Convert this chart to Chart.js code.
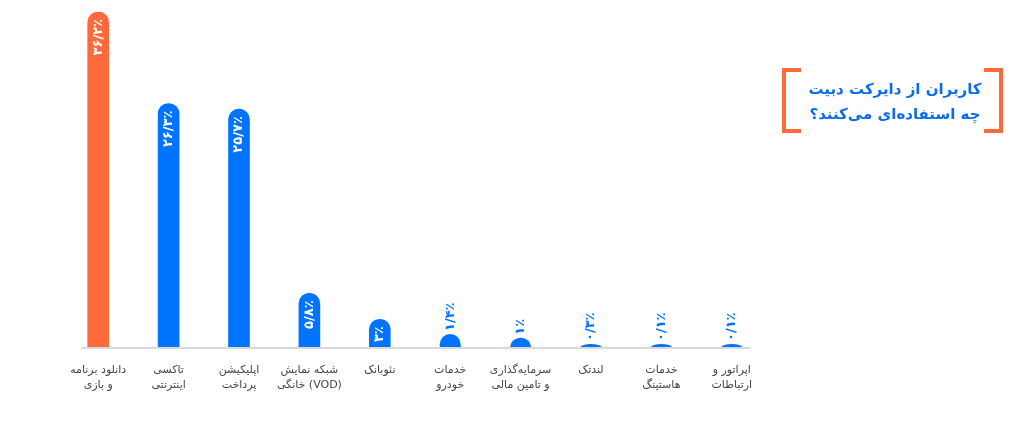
<!DOCTYPE html>
<html lang="fa">
<head>
<meta charset="utf-8">
<script src="https://cdn.jsdelivr.net/npm/chart.js@4/dist/chart.umd.min.js"></script>
<style>
  html, body { margin: 0; padding: 0; background: #fff; }
  #wrap { position: relative; width: 1024px; height: 431px; }
  #title {
    position: absolute; left: 790px; top: 77px; width: 210px;
    text-align: center; direction: rtl; white-space: nowrap;
    font-family: "DejaVu Sans", sans-serif; font-weight: bold;
    font-size: 15px; line-height: 25px; color: #0a6cf2;
  }
  .br { position: absolute; top: 68px; width: 15px; height: 57px; border: 4px solid #ff6a3d; }
  .br.l { left: 782px; border-right: none; }
  .br.r { left: 984px; border-left: none; }
</style>
</head>
<body>
<div id="wrap">
  <canvas id="c" width="1024" height="431"></canvas>
  <div class="br l"></div>
  <div class="br r"></div>
  <div id="title">کاربران از دایرکت دبیت<br>چه استفاده‌ای می‌کنند؟</div>
</div>
<script>
const categories = [
  ['دانلود برنامه', 'و بازی'],
  ['تاکسی', 'اینترنتی'],
  ['اپلیکیشن', 'پرداخت'],
  ['شبکه نمایش', 'خانگی (VOD)'],
  ['نئوبانک'],
  ['خدمات', 'خودرو'],
  ['سرمایه‌گذاری', 'و تامین مالی'],
  ['لندتک'],
  ['خدمات', 'هاستینگ'],
  ['اپراتور و', 'ارتباطات']
];
const values = [36.2, 26.3, 25.7, 5.8, 3, 1.4, 1, 0.3, 0.1, 0.1];
const valueLabels = ['۳۶/۲٪', '۲۶/۳٪', '۲۵/۷٪', '۵/۸٪', '۳٪', '۱/۴٪', '۱٪', '۰/۳٪', '۰/۱٪', '۰/۱٪'];

const ORANGE = '#ff6a3d';
const BLUE = '#0073ff';

// short bars get a dome top instead of the clamped corner radius
const domeBars = {
  id: 'domeBars',
  afterDatasetsDraw(chart) {
    const ctx = chart.ctx;
    chart.getDatasetMeta(0).data.forEach((bar, i) => {
      if (values[i] >= 3) return;
      const rx = bar.width / 2;
      const h = bar.base - bar.y;
      const ry = Math.min(rx, h);
      ctx.save();
      ctx.fillStyle = BLUE;
      ctx.beginPath();
      ctx.moveTo(bar.x - rx, bar.base);
      ctx.lineTo(bar.x - rx, bar.y + ry);
      ctx.ellipse(bar.x, bar.y + ry, rx, ry, 0, Math.PI, 2 * Math.PI);
      ctx.lineTo(bar.x + rx, bar.base);
      ctx.closePath();
      ctx.fill();
      ctx.restore();
    });
  }
};

// value text rotated inside the bar (big ones) or above it (small ones)
const barLabels = {
  id: 'barLabels',
  afterDatasetsDraw(chart) {
    const ctx = chart.ctx;
    const meta = chart.getDatasetMeta(0);
    ctx.save();
    ctx.font = 'bold 13px "DejaVu Sans", sans-serif';
    ctx.letterSpacing = '1.5px';
    ctx.textBaseline = 'middle';
    meta.data.forEach((bar, i) => {
      ctx.save();
      ctx.translate(bar.x, 0);
      ctx.rotate(-Math.PI / 2);
      if (values[i] >= 3) {
        ctx.fillStyle = '#fff';
        ctx.textAlign = 'right';
        ctx.fillText(valueLabels[i], -(bar.y + 7), 0);
      } else {
        ctx.fillStyle = BLUE;
        ctx.textAlign = 'left';
        ctx.fillText(valueLabels[i], -(bar.y - 3), 0);
      }
      ctx.restore();
    });
    ctx.restore();
  }
};

// thin grey baseline under the bars
const baseLine = {
  id: 'baseLine',
  beforeDatasetsDraw(chart) {
    const x = chart.scales.x, y = chart.scales.y;
    const ctx = chart.ctx;
    ctx.save();
    ctx.strokeStyle = '#d9d9d9';
    ctx.lineWidth = 2;
    ctx.beginPath();
    ctx.moveTo(x.getPixelForValue(0) - 17, y.getPixelForValue(0) + 1);
    ctx.lineTo(x.getPixelForValue(values.length - 1) + 19, y.getPixelForValue(0) + 1);
    ctx.stroke();
    ctx.restore();
  }
};

new Chart(document.getElementById('c'), {
  type: 'bar',
  data: {
    labels: categories,
    datasets: [{
      data: values,
      backgroundColor: values.map((v, i) => i === 0 ? ORANGE : (v < 3 ? 'rgba(0,0,0,0)' : BLUE)),
      barThickness: 21,
      borderRadius: { topLeft: 10.5, topRight: 10.5 },
      borderSkipped: 'start',
      minBarLength: 3
    }]
  },
  options: {
    responsive: false,
    animation: false,
    layout: { padding: { left: 63, right: 257, top: 12, bottom: 0 } },
    plugins: { legend: { display: false }, tooltip: { enabled: false } },
    scales: {
      x: {
        grid: { display: false },
        border: { display: false },
        ticks: {
          color: '#444',
          padding: 8,
          maxRotation: 0,
          font: { family: '"DejaVu Sans", sans-serif', size: 11, lineHeight: 1.35 }
        },
        afterFit(scale) { scale.height = 84; }
      },
      y: {
        display: false,
        min: 0,
        max: 36.2
      }
    }
  },
  plugins: [baseLine, domeBars, barLabels]
});
</script>
</body>
</html>
